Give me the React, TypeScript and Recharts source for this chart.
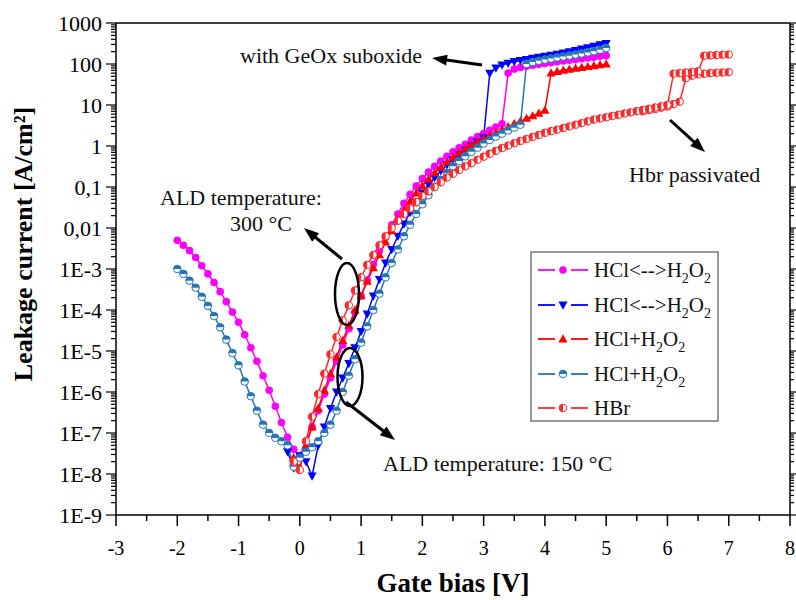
import React from 'react';
import { LineChart, Line, XAxis, YAxis } from 'recharts';

const FONT = '"Liberation Serif", "Times New Roman", serif';

// HCl<-->H2O2, 300 °C (magenta circles)
const vMagenta = [
  -2.0, -1.9, -1.8, -1.7, -1.6, -1.5, -1.4, -1.3, -1.2, -1.1, -1.0, -0.9, -0.8, -0.7, -0.6, -0.5, -0.4, -0.3, -0.2, -0.1,
  0.0, 0.1, 0.2, 0.3, 0.4, 0.5, 0.6, 0.7, 0.8, 0.9, 1.0, 1.1, 1.2, 1.3, 1.4, 1.5, 1.6, 1.7, 1.8, 1.9,
  2.0, 2.1, 2.2, 2.3, 2.4, 2.5, 2.6, 2.7, 2.8, 2.9, 3.0, 3.1, 3.2, 3.3, 3.4, 3.5, 3.6, 3.7, 3.8, 3.9,
  4.0, 4.1, 4.2, 4.3, 4.4, 4.5, 4.6, 4.7, 4.8, 4.9, 5.0,
];
const iMagenta = [
  5.0e-3, 3.8e-3, 2.8e-3, 1.9e-3, 1.2e-3, 7.6e-4, 4.7e-4, 2.8e-4, 1.6e-4, 8.9e-5, 5.0e-5, 2.5e-5, 1.2e-5, 5.6e-6, 2.5e-6, 1.1e-6, 4.5e-7, 1.8e-7, 7.9e-8, 4.0e-8,
  2.8e-8, 6.3e-8, 1.4e-7, 3.5e-7, 8.9e-7, 2.2e-6, 5.6e-6, 1.4e-5, 3.5e-5, 8.9e-5, 2.2e-4, 5.4e-4, 1.3e-3, 2.8e-3, 6.0e-3, 1.2e-2, 2.2e-2, 4.0e-2, 6.6e-2, 0.105,
  0.16, 0.23, 0.32, 0.43, 0.56, 0.72, 0.91, 1.1, 1.4, 1.7, 2.0, 2.4, 2.9, 3.5, 60, 75, 82, 88, 93, 98,
  103, 108, 113, 118, 123, 128, 134, 140, 147, 154, 160,
];

// HCl<-->H2O2, 150 °C (blue triangles)
const vBlue = [
  -0.2, -0.1, 0.0, 0.1, 0.2, 0.3, 0.4, 0.5, 0.6, 0.7, 0.8, 0.9, 1.0, 1.1, 1.2, 1.3, 1.4, 1.5, 1.6, 1.7,
  1.8, 1.9, 2.0, 2.1, 2.2, 2.3, 2.4, 2.5, 2.6, 2.7, 2.8, 2.9, 3.0, 3.1, 3.2, 3.3, 3.4, 3.5, 3.6, 3.7,
  3.8, 3.9, 4.0, 4.1, 4.2, 4.3, 4.4, 4.5, 4.6, 4.7, 4.8, 4.9, 5.0,
];
const iBlue = [
  3.5e-8, 1.4e-8, 2.8e-8, 2.0e-8, 9.0e-9, 5.0e-8, 1.4e-7, 4.0e-7, 1.0e-6, 2.2e-6, 5.0e-6, 1.2e-5, 3.0e-5, 8.0e-5, 2.2e-4, 5.6e-4, 1.4e-3, 3.0e-3, 6.3e-3, 1.26e-2,
  2.4e-2, 4.3e-2, 7.2e-2, 0.115, 0.17, 0.25, 0.35, 0.47, 0.62, 0.79, 1.0, 1.26, 1.6, 60, 80, 95, 105, 115, 122, 130,
  138, 146, 155, 165, 175, 187, 200, 215, 232, 250, 272, 295, 320,
];

// HCl+H2O2, 300 °C (red triangles)
const vRed = [
  -0.1, 0.0, 0.1, 0.2, 0.3, 0.4, 0.5, 0.6, 0.7, 0.8, 0.9, 1.0, 1.1, 1.2, 1.3, 1.4, 1.5, 1.6, 1.7, 1.8,
  1.9, 2.0, 2.1, 2.2, 2.3, 2.4, 2.5, 2.6, 2.7, 2.8, 2.9, 3.0, 3.1, 3.2, 3.3, 3.4, 3.5, 3.6, 3.7, 3.8,
  3.9, 4.0, 4.1, 4.2, 4.3, 4.4, 4.5, 4.6, 4.7, 4.8, 4.9, 5.0,
];
const iRed = [
  2.5e-8, 1.4e-8, 5.0e-8, 1.4e-7, 4.0e-7, 1.1e-6, 2.8e-6, 7.1e-6, 1.8e-5, 4.2e-5, 1.0e-4, 2.2e-4, 5.0e-4, 1.07e-3, 2.2e-3, 4.5e-3, 8.5e-3, 1.6e-2, 2.75e-2, 4.5e-2,
  7.1e-2, 0.107, 0.155, 0.22, 0.30, 0.40, 0.52, 0.68, 0.85, 1.05, 1.26, 1.5, 1.8, 2.1, 2.5, 2.95, 3.5, 4.0, 4.7, 5.4,
  6.3, 7.4, 60, 65, 70, 74, 78, 82, 86, 90, 95, 100,
];

// HCl+H2O2, 150 °C (steel blue half circles)
const vSteel = [
  -2.0, -1.9, -1.8, -1.7, -1.6, -1.5, -1.4, -1.3, -1.2, -1.1, -1.0, -0.9, -0.8, -0.7, -0.6, -0.5, -0.4, -0.3, -0.2, -0.1,
  0.0, 0.1, 0.2, 0.3, 0.4, 0.5, 0.6, 0.7, 0.8, 0.9, 1.0, 1.1, 1.2, 1.3, 1.4, 1.5, 1.6, 1.7, 1.8, 1.9,
  2.0, 2.1, 2.2, 2.3, 2.4, 2.5, 2.6, 2.7, 2.8, 2.9, 3.0, 3.1, 3.2, 3.3, 3.4, 3.5, 3.6, 3.7, 3.8, 3.9,
  4.0, 4.1, 4.2, 4.3, 4.4, 4.5, 4.6, 4.7, 4.8, 4.9, 5.0,
];
const iSteel = [
  1.0e-3, 7.6e-4, 5.2e-4, 3.5e-4, 2.1e-4, 1.26e-4, 7.1e-5, 3.8e-5, 1.9e-5, 8.9e-6, 4.5e-6, 1.8e-6, 7.9e-7, 3.5e-7, 1.6e-7, 1.0e-7, 7.6e-8, 6.3e-8, 5.0e-8, 1.5e-8,
  2.5e-8, 3.5e-8, 4.5e-8, 6.3e-8, 1.0e-7, 1.6e-7, 3.5e-7, 1.0e-6, 2.5e-6, 6.3e-6, 1.6e-5, 4.0e-5, 1.0e-4, 2.5e-4, 6.3e-4, 1.4e-3, 3.0e-3, 6.3e-3, 1.2e-2, 2.2e-2,
  3.8e-2, 6.3e-2, 0.1, 0.15, 0.22, 0.32, 0.43, 0.56, 0.72, 0.91, 1.15, 1.4, 1.7, 2.0, 2.4, 2.8, 3.3, 100, 112, 120,
  128, 136, 144, 152, 160, 170, 180, 192, 205, 222, 245,
];

// HBr passivated, first sweep
const vHbr1 = [
  -0.1, 0.0, 0.1, 0.2, 0.3, 0.4, 0.5, 0.6, 0.7, 0.8, 0.9, 1.0, 1.1, 1.2, 1.3, 1.4, 1.5, 1.6, 1.7, 1.8,
  1.9, 2.0, 2.1, 2.2, 2.3, 2.4, 2.5, 2.6, 2.7, 2.8, 2.9, 3.0, 3.1, 3.2, 3.3, 3.4, 3.5, 3.6, 3.7, 3.8,
  3.9, 4.0, 4.1, 4.2, 4.3, 4.4, 4.5, 4.6, 4.7, 4.8, 4.9, 5.0, 5.1, 5.2, 5.3, 5.4, 5.5, 5.6, 5.7, 5.8,
  5.9, 6.0, 6.1, 6.2, 6.3, 6.4, 6.5, 6.6, 6.7, 6.8, 6.9, 7.0,
];
const iHbr1 = [
  2.0e-8, 1.26e-8, 6.3e-8, 2.5e-7, 8.9e-7, 2.8e-6, 8.3e-6, 2.2e-5, 5.6e-5, 1.3e-4, 3.0e-4, 6.3e-4, 1.26e-3, 2.2e-3, 3.8e-3, 6.3e-3, 1.0e-2, 1.5e-2, 2.2e-2, 3.0e-2,
  4.3e-2, 6.0e-2, 7.9e-2, 0.10, 0.13, 0.17, 0.21, 0.26, 0.32, 0.38, 0.46, 0.55, 0.65, 0.76, 0.89, 1.02, 1.17, 1.32, 1.48, 1.66,
  1.86, 2.1, 2.3, 2.5, 2.75, 3.0, 3.3, 3.6, 4.0, 4.4, 4.7, 5.0, 5.4, 5.75, 6.2, 6.6, 7.1, 7.6, 8.1, 8.7,
  9.3, 10, 58, 60, 62, 64, 66, 158, 162, 165, 168, 170,
];

// HBr passivated, second sweep
const vHbr2 = [5.6, 5.7, 5.8, 5.9, 6.0, 6.1, 6.2, 6.3, 6.4, 6.5, 6.6, 6.7, 6.8, 6.9, 7.0];
const iHbr2 = [7.0, 7.5, 8.0, 8.6, 9.2, 10.5, 12, 45, 52, 56, 58, 60, 61, 62, 63];

const xTicks = [-3, -2.5, -2, -1.5, -1, -0.5, 0, 0.5, 1, 1.5, 2, 2.5, 3, 3.5, 4, 4.5, 5, 5.5, 6, 6.5, 7, 7.5, 8];
const yMajor = [1e-9, 1e-8, 1e-7, 1e-6, 1e-5, 1e-4, 1e-3, 1e-2, 0.1, 1, 10, 100, 1000];
const yLabels = ['1E-9', '1E-8', '1E-7', '1E-6', '1E-5', '1E-4', '1E-3', '0,01', '0,1', '1', '10', '100', '1000'];

const yTicks: number[] = [];
for (let e = -9; e <= 2; e++) {
  for (let m = 1; m <= 9; m++) yTicks.push(Number((m * Math.pow(10, e)).toPrecision(2)));
}
yTicks.push(1000);

const C = {
  magenta: '#FF00FF',
  blue: '#0000FF',
  red: '#FF0000',
  steel: '#2574B6',
  hbr: '#FF2A2A',
};

const pts = (v: number[], i: number[]) => v.map((x, k) => ({ v: x, i: i[k] }));

const isMajorY = (v: number) => {
  const l = Math.log10(v);
  return Math.abs(l - Math.round(l)) < 1e-6;
};
const yLabel = (v: number) => yLabels[yMajor.findIndex((m) => Math.abs(Math.log10(m) - Math.log10(v)) < 1e-6)];

function Marker({ kind, color, cx, cy }: { kind: string; color: string; cx: number; cy: number }) {
  const r = 3.8;
  if (kind === 'circle') return <circle cx={cx} cy={cy} r={r} fill={color} />;
  if (kind === 'down')
    return <polygon points={`${cx - 4.6},${cy - 3.4} ${cx + 4.6},${cy - 3.4} ${cx},${cy + 4.8}`} fill={color} />;
  if (kind === 'up')
    return <polygon points={`${cx - 4.6},${cy + 3.4} ${cx + 4.6},${cy + 3.4} ${cx},${cy - 4.8}`} fill={color} />;
  if (kind === 'halfTop')
    return (
      <g>
        <circle cx={cx} cy={cy} r={r} fill="#fff" stroke={color} strokeWidth={1} />
        <path d={`M${cx - r},${cy} A${r},${r} 0 0 1 ${cx + r},${cy} Z`} fill={color} />
      </g>
    );
  return (
    <g>
      <circle cx={cx} cy={cy} r={r} fill="#fff" stroke={color} strokeWidth={1} />
      <path d={`M${cx},${cy - r} A${r},${r} 0 0 0 ${cx},${cy + r} Z`} fill={color} />
    </g>
  );
}

const makeDot = (kind: string, color: string) => (p: any) => {
  if (p.cx == null || p.cy == null) return <g key={p.index} />;
  return <Marker key={p.index} kind={kind} color={color} cx={p.cx} cy={p.cy} />;
};

const BottomTick = (p: any) => {
  const v = p.payload.value;
  const major = Math.abs(v - Math.round(v)) < 1e-6;
  return (
    <g>
      <line x1={p.x} y1={p.y} x2={p.x} y2={p.y + (major ? 11 : 6)} stroke="#000" strokeWidth={1.5} />
      {major && (
        <text x={p.x} y={p.y + 40} textAnchor="middle" fontSize={20} fontFamily={FONT} fill="#000">
          {String(v)}
        </text>
      )}
    </g>
  );
};

const TopTick = (p: any) => {
  const v = p.payload.value;
  const major = Math.abs(v - Math.round(v)) < 1e-6;
  return <line x1={p.x} y1={p.y} x2={p.x} y2={p.y + (major ? 10 : 6)} stroke="#000" strokeWidth={1.5} />;
};

const LeftTick = (p: any) => {
  const v = p.payload.value;
  const major = isMajorY(v);
  return (
    <g>
      <line x1={p.x} y1={p.y} x2={p.x - (major ? 10 : 5)} y2={p.y} stroke="#000" strokeWidth={1.2} />
      {major && (
        <text x={p.x - 14} y={p.y} dy="0.35em" textAnchor="end" fontSize={22} fontFamily={FONT} fill="#000">
          {yLabel(v)}
        </text>
      )}
    </g>
  );
};

const RightTick = (p: any) => {
  const major = isMajorY(p.payload.value);
  return <line x1={p.x} y1={p.y} x2={p.x + (major ? 6 : 4)} y2={p.y} stroke="#000" strokeWidth={1.2} />;
};

function Arrow({ x1, y1, x2, y2 }: { x1: number; y1: number; x2: number; y2: number }) {
  const dx = x2 - x1;
  const dy = y2 - y1;
  const len = Math.hypot(dx, dy);
  const ux = dx / len;
  const uy = dy / len;
  const hl = 15;
  const hw = 5.5;
  const bx = x2 - ux * hl;
  const by = y2 - uy * hl;
  return (
    <g>
      <line x1={x1} y1={y1} x2={bx + ux * 2} y2={by + uy * 2} stroke="#000" strokeWidth={3} />
      <polygon points={`${x2},${y2} ${bx - uy * hw},${by + ux * hw} ${bx + uy * hw},${by - ux * hw}`} fill="#000" />
    </g>
  );
}

const legendItems = [
  { kind: 'circle', color: C.magenta, label: 'arrow' },
  { kind: 'down', color: C.blue, label: 'arrow' },
  { kind: 'up', color: C.red, label: 'plus' },
  { kind: 'halfTop', color: C.steel, label: 'plus' },
  { kind: 'halfLeft', color: C.hbr, label: 'hbr' },
];
const legendY = [270, 305, 339, 374, 408];

function LegendLabel({ type, y }: { type: string; y: number }) {
  const base = { x: 594, y: y + 7, fontSize: 21, fontFamily: FONT, fill: '#111' };
  if (type === 'hbr') return <text {...base}>HBr</text>;
  const head = type === 'arrow' ? 'HCl<-->H' : 'HCl+H';
  return (
    <text {...base}>
      {head}
      <tspan fontSize={14} dy={6}>2</tspan>
      <tspan dy={-6}>O</tspan>
      <tspan fontSize={14} dy={6}>2</tspan>
    </text>
  );
}

export default function App() {
  const common = { xAxisId: 'b', yAxisId: 'l', dataKey: 'i', strokeWidth: 1.5, isAnimationActive: false, activeDot: false } as const;
  return (
    <div style={{ position: 'absolute', left: 0, top: 0, width: 796, height: 600, background: '#fff' }}>
      <LineChart width={796} height={600} margin={{ top: 0, right: 0, bottom: 0, left: 0 }}>
        <XAxis
          xAxisId="b"
          dataKey="v"
          type="number"
          domain={[-3, 8]}
          allowDataOverflow
          ticks={xTicks}
          interval={0}
          height={85}
          tickSize={0}
          tickMargin={0}
          tickLine={false}
          tick={BottomTick}
          axisLine={{ stroke: '#000', strokeWidth: 1.5 }}
        />
        <XAxis
          xAxisId="t"
          orientation="top"
          type="number"
          domain={[-3, 8]}
          allowDataOverflow
          ticks={xTicks}
          interval={0}
          height={23}
          tickSize={0}
          tickMargin={0}
          tickLine={false}
          tick={TopTick}
          axisLine={{ stroke: '#000', strokeWidth: 1.5 }}
        />
        <YAxis
          yAxisId="l"
          type="number"
          scale="log"
          domain={[1e-9, 1000]}
          allowDataOverflow
          ticks={yTicks}
          interval={0}
          width={116}
          tickSize={0}
          tickMargin={0}
          tickLine={false}
          tick={LeftTick}
          axisLine={{ stroke: '#000', strokeWidth: 1.5 }}
        />
        <YAxis
          yAxisId="r"
          orientation="right"
          type="number"
          scale="log"
          domain={[1e-9, 1000]}
          allowDataOverflow
          ticks={yTicks}
          interval={0}
          width={6}
          tickSize={0}
          tickMargin={0}
          tickLine={false}
          tick={RightTick}
          axisLine={{ stroke: '#000', strokeWidth: 1.5 }}
        />
        <Line {...common} data={pts(vMagenta, iMagenta)} stroke={C.magenta} dot={makeDot('circle', C.magenta)} />
        <Line {...common} data={pts(vBlue, iBlue)} stroke={C.blue} dot={makeDot('down', C.blue)} />
        <Line {...common} data={pts(vRed, iRed)} stroke={C.red} dot={makeDot('up', C.red)} />
        <Line {...common} data={pts(vSteel, iSteel)} stroke={C.steel} dot={makeDot('halfTop', C.steel)} />
        <Line {...common} data={pts(vHbr2, iHbr2)} stroke={C.hbr} dot={makeDot('halfLeft', C.hbr)} />
        <Line {...common} data={pts(vHbr1, iHbr1)} stroke={C.hbr} dot={makeDot('halfLeft', C.hbr)} />
      </LineChart>

      <svg width={796} height={600} style={{ position: 'absolute', left: 0, top: 0, pointerEvents: 'none' }}>
        <text
          transform="translate(32,244) rotate(-90)"
          textAnchor="middle"
          fontSize={26}
          fontWeight="bold"
          fontFamily={FONT}
          fill="#000"
        >
          Leakage current [A/cm²]
        </text>
        <text x={453} y={592} textAnchor="middle" fontSize={27} fontWeight="bold" fontFamily={FONT} fill="#000">
          Gate bias [V]
        </text>

        <g fontFamily={FONT} fontSize={22} fill="#111">
          <text x={240} y={63}>with GeOx suboxide</text>
          <text x={160} y={205}>ALD temperature:</text>
          <text x={230} y={231}>300 °C</text>
          <text x={383} y={471}>ALD temperature: 150 °C</text>
          <text x={629} y={182}>Hbr passivated</text>
        </g>
        <Arrow x1={482} y1={65} x2={432} y2={58} />
        <Arrow x1={342} y1={259} x2={304} y2={228} />
        <Arrow x1={346} y1={402} x2={395} y2={440} />
        <Arrow x1={670} y1={120} x2={705} y2={152} />
        <ellipse cx={347} cy={294} rx={12} ry={31} fill="none" stroke="#000" strokeWidth={2.5} />
        <ellipse cx={350} cy={377} rx={12.5} ry={29} fill="none" stroke="#000" strokeWidth={2.5} />

        <rect x={531} y={252} width={187} height={169} fill="#fff" stroke="#555" strokeWidth={1.2} />
        {legendItems.map((it, k) => (
          <g key={k}>
            <line x1={538} y1={legendY[k]} x2={555} y2={legendY[k]} stroke={it.color} strokeWidth={1.8} />
            <line x1={571} y1={legendY[k]} x2={588} y2={legendY[k]} stroke={it.color} strokeWidth={1.8} />
            <Marker kind={it.kind} color={it.color} cx={563} cy={legendY[k]} />
            <LegendLabel type={it.label} y={legendY[k]} />
          </g>
        ))}
      </svg>
    </div>
  );
}
